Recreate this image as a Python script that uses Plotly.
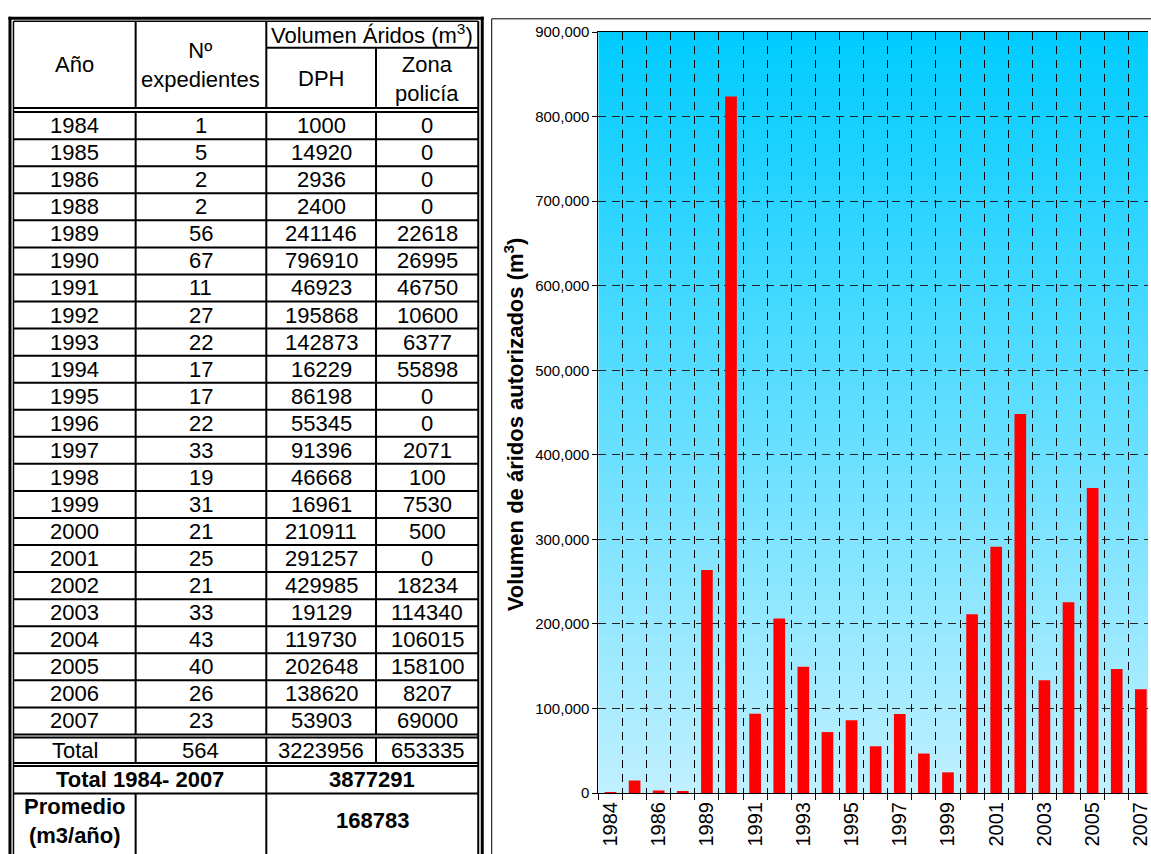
import base64
import struct
import zlib

import plotly.graph_objects as go

# ---- data -----------------------------------------------------------------
anios = ["1984", "1985", "1986", "1988", "1989", "1990", "1991", "1992",
         "1993", "1994", "1995", "1996", "1997", "1998", "1999", "2000",
         "2001", "2002", "2003", "2004", "2005", "2006", "2007"]
expedientes = [1, 5, 2, 2, 56, 67, 11, 27, 22, 17, 17, 22, 33, 19, 31, 21,
               25, 21, 33, 43, 40, 26, 23]
dph = [1000, 14920, 2936, 2400, 241146, 796910, 46923, 195868, 142873,
       16229, 86198, 55345, 91396, 46668, 16961, 210911, 291257, 429985,
       19129, 119730, 202648, 138620, 53903]
zona_policia = [0, 0, 0, 0, 22618, 26995, 46750, 10600, 6377, 55898, 0, 0,
                2071, 100, 7530, 500, 0, 18234, 114340, 106015, 158100,
                8207, 69000]
promedio_anual = 168783

# volume authorised per year = DPH + zona de policía
volumen_total = [a + b for a, b in zip(dph, zona_policia)]
# only every other year is labelled on the category axis
etiquetas_x = [a if i % 2 == 0 else "" for i, a in enumerate(anios)]

# ---- page geometry (pixels) -------------------------------------------------
W, H = 1151, 854
FONT = "Liberation Sans, Arial, sans-serif"


def fx(x):
    return x / W


def fy(y):
    return 1 - y / H


shapes = []
annotations = []


def hline(y, x0, x1, w=2):
    shapes.append(dict(type="line", xref="paper", yref="paper",
                       x0=fx(x0), x1=fx(x1), y0=fy(y), y1=fy(y),
                       line=dict(color="black", width=w)))


def vline(x, y0, y1, w=2):
    shapes.append(dict(type="line", xref="paper", yref="paper",
                       x0=fx(x), x1=fx(x), y0=fy(y0), y1=fy(y1),
                       line=dict(color="black", width=w)))


def cell(text, x, y, size=22, bold=False):
    if bold:
        text = "<b>" + text.replace("<br>", "</b><br><b>") + "</b>"
    annotations.append(dict(text=text, xref="paper", yref="paper",
                            x=fx(x), y=fy(y), xanchor="center",
                            yanchor="middle", showarrow=False,
                            font=dict(family=FONT, size=size, color="black")))


# ---- table frame --------------------------------------------------------------
L_OUT, L_IN, R_IN, R_OUT = 10, 13.5, 479.5, 483.5
C1, C2, C3 = 136, 267, 377
BOTTOM = 870

hline(9.5, L_OUT - 1.5, R_OUT + 1.5, 3)
vline(L_OUT, 8, BOTTOM, 3)
vline(R_OUT, 8, BOTTOM, 3)
hline(12.5, L_IN, R_IN, 1.5)
vline(L_IN, 12.5, BOTTOM, 1.5)
vline(R_IN, 12.5, BOTTOM, 2)

# header block
HEAD_BOT = 101
hline(39.5, C2, R_IN)
hline(HEAD_BOT, L_IN, R_IN)
vline(C1, 12.5, HEAD_BOT)
vline(C2, 12.5, HEAD_BOT)
vline(C3, 39.5, HEAD_BOT)

# yearly rows
DATA_TOP, DATA_BOT = 105.2, 740.2
ROW_H = (DATA_BOT - DATA_TOP) / len(anios)
for k in range(len(anios) + 1):
    hline(DATA_TOP + k * ROW_H, L_IN, R_IN)
for c in (C1, C2, C3):
    vline(c, DATA_TOP, DATA_BOT)

# totals
TOT_TOP, TOT_BOT = 743.3, 769.2
hline(TOT_TOP, L_IN, R_IN)
hline(TOT_BOT, L_IN, R_IN)
for c in (C1, C2, C3):
    vline(c, TOT_TOP, TOT_BOT)

GT_TOP, GT_BOT = 772.5, 800.5
hline(GT_TOP, L_IN, R_IN)
hline(GT_BOT, L_IN, R_IN)
vline(C2, GT_TOP, GT_BOT)
vline(C1, GT_BOT, BOTTOM)
vline(C2, GT_BOT, BOTTOM)

# ---- table text ---------------------------------------------------------------
xc = [(L_IN + C1) / 2, (C1 + C2) / 2, (C2 + C3) / 2, (C3 + R_IN) / 2]
cell("Año", xc[0], 57)
cell("Nº<br>expedientes", xc[1], 57)
cell("Volumen Áridos (m<sup>3</sup>)", (C2 + R_IN) / 2, 25)
cell("DPH", xc[2], 71)
cell("Zona<br>policía", xc[3], 71)

for i, anio in enumerate(anios):
    yc = DATA_TOP + (i + 0.5) * ROW_H
    cell(anio, xc[0], yc)
    cell(str(expedientes[i]), xc[1], yc)
    cell(str(dph[i]), xc[2], yc)
    cell(str(zona_policia[i]), xc[3], yc)

yc = (TOT_TOP + TOT_BOT) / 2
cell("Total", xc[0], yc)
cell(str(sum(expedientes)), xc[1], yc)
cell(str(sum(dph)), xc[2], yc)
cell(str(sum(zona_policia)), xc[3], yc)

yc = (GT_TOP + GT_BOT) / 2
cell("Total 1984- 2007", (L_IN + C2) / 2, yc, bold=True)
cell(str(sum(dph) + sum(zona_policia)), (C2 + R_IN) / 2, yc, bold=True)

cell("Promedio<br>(m3/año)", xc[0], 828.5, bold=True)
cell(str(promedio_anual), (C2 + R_IN) / 2, 828, bold=True)

# ---- chart frame ----------------------------------------------------------------
vline(493, 10, BOTTOM, 1)
hline(10, 493, W + 10, 1)

# ---- chart --------------------------------------------------------------------------
PX0, PY0, PY1 = 600, 23.5, 800
CAT_W = 24.17
x_end = -0.5 + (W - PX0) / CAT_W


def gradient_png(c0, c1, n=256, w=4):
    rows = b""
    for i in range(n):
        t = i / (n - 1)
        rgb = bytes(round(a + (b - a) * t) for a, b in zip(c0, c1))
        rows += b"\x00" + rgb * w

    def chunk(tag, data):
        return (struct.pack(">I", len(data)) + tag + data +
                struct.pack(">I", zlib.crc32(tag + data) & 0xFFFFFFFF))

    png = (b"\x89PNG\r\n\x1a\n" +
           chunk(b"IHDR", struct.pack(">IIBBBBB", w, n, 8, 2, 0, 0, 0)) +
           chunk(b"IDAT", zlib.compress(rows)) +
           chunk(b"IEND", b""))
    return "data:image/png;base64," + base64.b64encode(png).decode()


fig = go.Figure(go.Bar(x=anios, y=volumen_total, marker_color="#FF0000",
                       marker_line_width=0, hoverinfo="x+y"))

fig.add_layout_image(dict(
    source=gradient_png((0, 204, 255), (192, 240, 255)),
    xref="paper", yref="paper", x=fx(PX0), y=fy(PY0),
    sizex=1 - fx(PX0), sizey=fy(PY0) - fy(PY1),
    xanchor="left", yanchor="top", sizing="stretch", layer="below"))

annotations.append(dict(
    text="<b>Volumen de áridos autorizados (m<sup>3</sup>)</b>",
    xref="paper", yref="paper", x=fx(515), y=fy(424), textangle=-90,
    xanchor="center", yanchor="middle", showarrow=False,
    font=dict(family=FONT, size=22, color="black")))

fig.update_layout(
    width=W, height=H,
    margin=dict(l=0, r=0, t=0, b=0),
    paper_bgcolor="white",
    plot_bgcolor="rgba(0,0,0,0)",
    showlegend=False,
    bargap=0.516,
    shapes=shapes,
    annotations=annotations,
    xaxis=dict(
        type="category", domain=[fx(PX0), 1], range=[-0.5, x_end],
        tickmode="array", tickvals=anios, ticktext=etiquetas_x,
        tickangle=-90, tickson="boundaries",
        ticks="outside", ticklen=6, tickcolor="black",
        showline=True, linecolor="black", linewidth=1, mirror=True,
        showgrid=True, gridcolor="black", gridwidth=1, griddash="8px,6px",
        tickfont=dict(family=FONT, size=20, color="black"),
        fixedrange=True),
    yaxis=dict(
        domain=[fy(PY1), fy(PY0)], range=[0, 900000], dtick=100000,
        tickformat=",", ticks="outside", ticklen=5, tickcolor="black",
        showline=True, linecolor="black", linewidth=1,
        showgrid=True, gridcolor="#222222", gridwidth=1, griddash="8px,6px",
        zeroline=False,
        tickfont=dict(family=FONT, size=15, color="black"),
        fixedrange=True),
)

fig.write_html("out.html", config={"displayModeBar": False})
